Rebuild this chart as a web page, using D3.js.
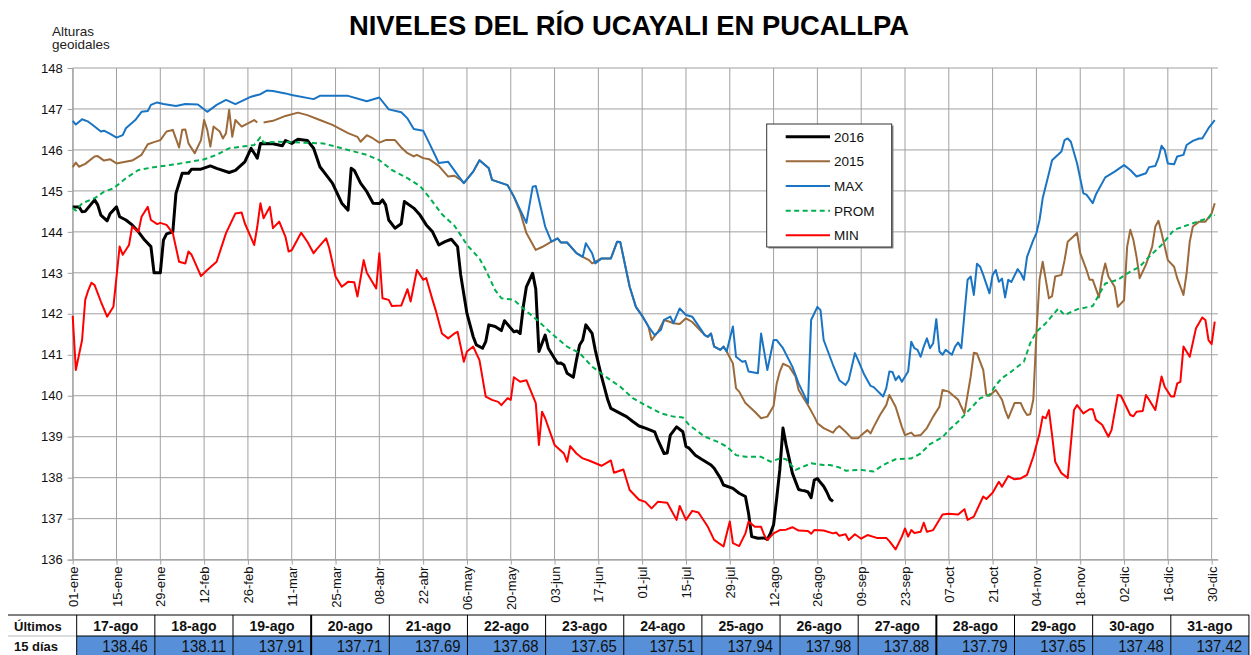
<!DOCTYPE html>
<html><head><meta charset="utf-8">
<script src="https://cdn.jsdelivr.net/npm/d3@7"></script>
<style>
body{margin:0;background:#fff}
svg{display:block}
text{font-family:"Liberation Sans",Arial,Helvetica,sans-serif}
</style>
</head><body>
<svg id="chart" width="1251" height="655"></svg>
<script>
const titleText = "NIVELES DEL RÍO UCAYALI EN PUCALLPA";
const yLabelLines = ["Alturas", "geoidales"];
const tickLabels = ["01-ene","15-ene","29-ene","12-feb","26-feb","11-mar","25-mar","08-abr","22-abr","06-may","20-may","03-jun","17-jun","01-jul","15-jul","29-jul","12-ago","26-ago","09-sep","23-sep","07-oct","21-oct","04-nov","18-nov","02-dic","16-dic","30-dic"];
const yTicks = [136,137,138,139,140,141,142,143,144,145,146,147,148];
const seriesNames = ["2016","2015","MAX","PROM","MIN"];
const seriesColors = ["#000000","#9c6a3a","#1a74c4","#00b050","#ff0000"];

// [day of year (0 = 01-ene), level]
const s2016 = [[0,144.61],[2,144.61],[3,144.49],[4,144.50],[7,144.78],[8,144.66],[9,144.41],[11,144.27],[12,144.45],[14,144.61],[15,144.37],[17,144.29],[19,144.17],[21,144.0],[23,143.80],[25,143.64],[26,143.0],[28,143.0],[29,143.80],[30,143.95],[32,144.0],[33,144.94],[35,145.43],[37,145.43],[38,145.53],[41,145.53],[44,145.61],[46,145.55],[50,145.45],[52,145.50],[55,145.71],[57,146.04],[59,145.80],[60,146.16],[64,146.15],[67,146.10],[68,146.23],[70,146.16],[72,146.26],[75,146.23],[77,146.04],[79,145.59],[81,145.39],[83,145.19],[86,144.70],[88,144.53],[89,145.55],[90,145.50],[92,145.19],[94,144.98],[96,144.70],[98,144.69],[99,144.78],[100,144.66],[101,144.29],[103,144.09],[105,144.20],[106,144.74],[109,144.58],[111,144.41],[113,144.17],[115,144.0],[117,143.68],[119,143.76],[121,143.82],[123,143.64],[124,142.95],[126,142.01],[128,141.44],[129,141.24],[131,141.16],[132,141.32],[133,141.73],[135,141.69],[137,141.59],[138,141.83],[140,141.65],[141,141.56],[142,141.58],[143,141.52],[144,142.17],[145,142.66],[147,142.99],[148,142.60],[149,141.08],[151,141.48],[152,141.16],[154,140.91],[155,140.79],[156,140.80],[157,140.75],[158,140.55],[160,140.45],[161,140.87],[162,141.24],[163,141.36],[164,141.73],[166,141.52],[167,141.12],[169,140.47],[171,139.90],[172,139.69],[175,139.57],[177,139.49],[179,139.37],[181,139.26],[183,139.21],[186,139.12],[187,138.92],[189,138.59],[190,138.60],[191,139.04],[193,139.24],[195,139.12],[196,138.76],[197,138.72],[199,138.55],[201,138.45],[204,138.31],[205,138.23],[207,137.99],[208,137.82],[211,137.74],[213,137.62],[215,137.54],[216,137.13],[217,136.56],[219,136.52],[221,136.53],[222,136.49],[223,136.64],[224,136.85],[225,137.5],[226,138.2],[227,139.21],[228,138.8],[229,138.46],[230,138.11],[231,137.91],[232,137.71],[233,137.69],[234,137.68],[235,137.65],[236,137.51],[237,137.94],[238,137.98],[239,137.88],[240,137.79],[241,137.65],[242,137.48],[243,137.42]];

const s2015 = [[0,145.58],[1,145.69],[2,145.59],[4,145.66],[7,145.84],[8,145.85],[10,145.74],[12,145.77],[14,145.67],[16,145.70],[19,145.74],[22,145.88],[24,146.14],[26,146.19],[28,146.24],[30,146.45],[32,146.49],[34,146.06],[35,146.49],[36,146.50],[37,146.16],[39,145.92],[41,146.24],[42,146.73],[43,146.49],[44,146.08],[45,146.57],[47,146.45],[48,146.28],[49,146.41],[50,146.98],[51,146.32],[52,146.73],[54,146.57],[56,146.65],[58,146.73],[59,146.67],[60,null],[61,146.67],[64,146.71],[68,146.83],[72,146.91],[75,146.85],[79,146.73],[83,146.61],[88,146.41],[91,146.32],[92,146.20],[94,146.36],[96,146.28],[98,146.18],[100,146.24],[103,146.24],[105,146.06],[107,145.92],[109,145.84],[110,145.88],[112,145.80],[114,145.77],[117,145.61],[120,145.35],[122,145.37],[124,145.27],[125,145.19],[128,145.47],[130,145.75],[133,145.55],[134,145.27],[139,145.14],[141,144.86],[143,144.49],[145,143.97],[148,143.56],[150,143.63],[153,143.76],[155,143.84],[156,143.74],[158,143.74],[161,143.48],[163,143.39],[165,143.31],[166,143.23],[169,143.35],[172,143.35],[174,143.76],[175,143.75],[178,142.66],[180,142.17],[182,141.95],[184,141.69],[185,141.36],[187,141.55],[189,141.85],[191,141.80],[192,141.77],[194,141.75],[196,141.89],[198,141.80],[202,141.48],[203,141.44],[204,141.52],[205,141.20],[207,141.12],[208,141.20],[209,141.08],[211,140.79],[212,140.18],[213,140.10],[215,139.82],[218,139.61],[220,139.45],[222,139.49],[224,139.75],[225,140.30],[226,140.59],[227,140.78],[229,140.71],[231,140.47],[232,140.14],[235,139.77],[237,139.49],[238,139.33],[240,139.21],[243,139.10],[244,139.20],[245,139.26],[247,139.12],[249,138.96],[251,138.96],[253,139.10],[254,139.16],[255,139.08],[256,139.24],[258,139.53],[260,139.77],[261,140.02],[263,139.73],[265,139.24],[266,139.04],[268,139.10],[269,139.02],[271,139.04],[273,139.21],[275,139.49],[277,139.73],[278,140.14],[280,140.10],[283,139.90],[284,139.73],[285,139.57],[286,140.02],[287,140.47],[288,141.05],[289,141.03],[291,140.63],[292,140.02],[293,140.0],[295,140.14],[297,139.90],[298,139.65],[299,139.45],[301,139.82],[303,139.82],[304,139.65],[305,139.53],[306,139.55],[307,139.90],[308,141.52],[309,142.83],[310,143.27],[311,142.83],[312,142.38],[313,142.43],[314,142.91],[316,142.95],[317,143.31],[318,143.76],[321,143.97],[322,143.48],[324,143.07],[325,142.83],[326,142.83],[328,142.40],[329,142.91],[330,143.23],[331,142.91],[333,142.66],[334,142.17],[336,142.33],[337,143.64],[338,144.05],[339,143.80],[340,143.39],[341,142.87],[343,143.20],[345,143.64],[346,144.13],[347,144.27],[348,143.97],[350,143.31],[352,143.15],[353,142.87],[355,142.46],[356,142.99],[357,143.76],[358,144.13],[360,144.25],[362,144.25],[364,144.45],[365,144.70]];

const sMax = [[0,146.71],[1,146.62],[3,146.75],[5,146.69],[7,146.57],[9,146.45],[10,146.47],[12,146.39],[14,146.30],[16,146.36],[17,146.53],[20,146.73],[22,146.93],[24,146.95],[25,147.10],[27,147.16],[29,147.12],[33,147.07],[36,147.12],[40,147.11],[43,146.93],[46,147.10],[49,147.22],[52,147.12],[57,147.30],[60,147.36],[62,147.45],[64,147.44],[68,147.38],[70,147.34],[77,147.24],[79,147.32],[88,147.32],[94,147.19],[98,147.28],[101,146.99],[105,146.92],[107,146.77],[109,146.51],[112,146.47],[114,146.16],[117,145.68],[120,145.71],[123,145.39],[125,145.19],[128,145.47],[130,145.75],[133,145.55],[134,145.27],[139,145.14],[141,144.86],[145,144.22],[147,145.10],[148,145.12],[151,144.13],[153,143.76],[155,143.84],[156,143.74],[158,143.74],[161,143.48],[163,143.39],[164,143.72],[166,143.48],[167,143.23],[169,143.35],[172,143.35],[174,143.76],[175,143.75],[178,142.66],[180,142.17],[182,141.95],[184,141.69],[186,141.48],[188,141.61],[189,141.85],[191,141.93],[192,141.77],[194,142.13],[196,141.97],[198,141.93],[202,141.48],[203,141.44],[204,141.52],[205,141.20],[207,141.12],[208,141.20],[209,141.08],[211,141.69],[212,140.95],[214,140.83],[215,140.85],[216,140.59],[219,140.55],[220,141.52],[222,140.63],[224,141.36],[225,141.36],[227,141.16],[230,140.71],[232,140.30],[235,139.82],[236,141.85],[238,142.17],[239,142.09],[240,141.36],[243,140.75],[245,140.38],[247,140.26],[248,140.38],[250,141.04],[251,140.87],[253,140.51],[255,140.24],[256,140.21],[259,139.98],[260,140.18],[261,140.59],[262,140.58],[263,140.38],[264,140.48],[265,140.34],[267,140.59],[268,141.32],[269,141.16],[270,141.12],[271,140.95],[272,141.20],[273,141.40],[274,141.16],[275,141.28],[276,141.87],[277,141.08],[278,141.00],[279,141.12],[281,141.0],[282,141.20],[283,141.30],[284,141.16],[285,142.0],[286,142.83],[287,142.91],[288,142.46],[289,143.22],[290,143.15],[291,142.95],[293,142.50],[294,142.95],[295,143.07],[296,142.78],[297,142.86],[298,142.40],[299,142.83],[300,142.78],[302,143.09],[303,142.99],[304,142.83],[305,143.39],[307,143.80],[308,143.97],[309,144.29],[310,144.82],[312,145.43],[313,145.75],[316,145.96],[317,146.24],[318,146.28],[319,146.20],[321,145.67],[323,144.94],[324,144.91],[326,144.70],[327,144.91],[330,145.33],[333,145.47],[336,145.63],[338,145.51],[340,145.35],[343,145.43],[344,145.58],[346,145.61],[347,145.80],[348,146.10],[349,146.0],[350,145.67],[352,145.65],[353,145.84],[355,145.88],[356,146.12],[358,146.22],[360,146.28],[361,146.28],[363,146.53],[365,146.73]];

const sProm = [[0,144.58],[1,144.52],[3,144.70],[7,144.82],[10,144.98],[13,145.06],[17,145.31],[21,145.51],[26,145.58],[31,145.63],[36,145.69],[42,145.77],[46,145.88],[50,146.04],[56,146.10],[58,146.12],[60,146.31],[61,146.18],[66,146.20],[73,146.18],[80,146.16],[83,146.10],[88,146.0],[94,145.88],[98,145.75],[102,145.51],[107,145.31],[111,145.12],[114,144.84],[118,144.43],[122,144.15],[124,143.92],[126,143.68],[130,143.35],[132,143.07],[135,142.58],[137,142.38],[141,142.34],[144,142.13],[149,141.81],[153,141.52],[158,141.20],[162,141.04],[166,140.71],[171,140.43],[175,140.22],[179,139.94],[183,139.77],[188,139.57],[192,139.49],[195,139.47],[197,139.29],[202,139.0],[206,138.88],[209,138.76],[212,138.55],[215,138.51],[220,138.51],[223,138.39],[226,138.47],[228,138.45],[231,138.19],[236,138.35],[240,138.31],[242,138.31],[245,138.25],[247,138.17],[252,138.19],[256,138.15],[259,138.31],[263,138.45],[268,138.47],[271,138.59],[274,138.82],[278,138.99],[280,139.16],[283,139.37],[287,139.69],[290,139.94],[293,140.02],[295,140.26],[297,140.43],[300,140.59],[304,140.83],[306,141.28],[308,141.56],[311,141.77],[315,142.13],[317,141.97],[321,142.11],[326,142.19],[330,142.74],[334,142.83],[338,143.03],[341,143.15],[344,143.39],[348,143.68],[352,144.05],[355,144.13],[358,144.21],[361,144.29],[363,144.33],[364,144.44],[365,144.40]];

const sMin = [[0,141.95],[1,140.63],[3,141.36],[4,142.34],[5,142.58],[6,142.76],[7,142.70],[9,142.30],[11,141.93],[13,142.17],[15,143.64],[16,143.44],[18,143.68],[19,144.13],[21,144.0],[22,144.37],[24,144.61],[25,144.29],[27,144.19],[28,144.22],[30,144.17],[32,143.97],[34,143.27],[36,143.23],[37,143.52],[38,143.44],[41,142.92],[43,143.07],[46,143.27],[49,143.97],[52,144.45],[54,144.47],[55,144.21],[58,143.68],[59,144.13],[60,144.70],[61,144.33],[63,144.61],[64,144.09],[66,144.25],[68,143.88],[69,143.52],[70,143.55],[73,143.98],[75,143.76],[77,143.48],[78,143.58],[81,143.84],[82,143.60],[84,142.91],[86,142.66],[88,142.78],[90,142.77],[91,142.42],[93,143.31],[94,143.00],[97,142.62],[98,143.48],[99,142.38],[101,142.34],[102,142.19],[105,142.20],[107,142.60],[108,142.30],[110,143.07],[112,142.83],[113,142.87],[115,142.34],[116,142.09],[118,141.52],[120,141.40],[122,141.52],[123,141.56],[124,141.20],[125,140.83],[126,141.08],[128,141.20],[130,140.87],[132,139.98],[134,139.90],[136,139.85],[137,139.77],[139,139.94],[140,139.90],[141,140.45],[143,140.34],[145,140.38],[148,139.82],[149,138.80],[150,139.61],[151,139.45],[154,138.80],[157,138.59],[158,138.39],[159,138.77],[161,138.59],[163,138.47],[165,138.42],[169,138.29],[172,138.42],[173,138.12],[176,138.20],[178,137.70],[181,137.46],[183,137.41],[185,137.25],[187,137.41],[190,137.39],[193,136.97],[194,137.31],[196,136.97],[198,137.19],[200,137.15],[203,136.80],[205,136.48],[208,136.32],[210,136.93],[211,136.40],[213,136.33],[215,136.64],[216,136.93],[218,136.80],[220,136.80],[221,136.60],[222,136.48],[224,136.64],[226,136.72],[228,136.73],[230,136.79],[232,136.71],[235,136.70],[236,136.63],[237,136.72],[240,136.71],[243,136.64],[244,136.66],[245,136.58],[247,136.62],[248,136.48],[250,136.62],[252,136.51],[254,136.60],[257,136.53],[260,136.53],[261,136.45],[263,136.25],[265,136.56],[266,136.76],[267,136.56],[268,136.72],[269,136.65],[271,136.68],[272,136.90],[273,136.68],[275,136.72],[278,137.10],[280,137.12],[283,137.10],[285,137.23],[286,136.97],[288,137.05],[291,137.54],[292,137.48],[294,137.63],[296,137.90],[297,137.78],[299,138.04],[301,137.96],[303,137.98],[305,138.07],[307,138.51],[309,139.08],[310,139.49],[311,139.45],[312,139.65],[313,139.04],[314,138.39],[316,138.11],[318,137.99],[320,139.65],[321,139.77],[323,139.57],[325,139.67],[326,139.67],[327,139.41],[329,139.29],[331,139.00],[332,139.16],[334,140.02],[335,140.00],[338,139.53],[339,139.50],[340,139.61],[342,139.63],[343,140.02],[344,139.90],[346,139.65],[348,140.47],[349,140.22],[351,139.98],[352,139.98],[353,140.30],[354,140.34],[355,141.20],[357,140.95],[359,141.65],[361,141.91],[362,141.85],[363,141.36],[364,141.26],[365,141.81]];

const tableRowLabels = ["Últimos","15 días"];
const tableDates = ["17-ago","18-ago","19-ago","20-ago","21-ago","22-ago","23-ago","24-ago","25-ago","26-ago","27-ago","28-ago","29-ago","30-ago","31-ago"];
const tableValues = [138.46,138.11,137.91,137.71,137.69,137.68,137.65,137.51,137.94,137.98,137.88,137.79,137.65,137.48,137.42];

// ---------------------------------------------------------------
const svg = d3.select("#chart");
const plot = {left: 72.7, right: 1217.9, top: 68, bottom: 559.6};
const start = new Date(Date.UTC(2016,0,1));
const end = new Date(Date.UTC(2017,0,1));
const toDate = d => d3.utcDay.offset(start, d);

const x = d3.scaleUtc().domain([start, end]).range([plot.left, plot.right]);
const y = d3.scaleLinear().domain([136,148]).range([plot.bottom, plot.top]);
const tickDates = tickLabels.map((_, i) => d3.utcDay.offset(start, i*14));

const gridColor = "#a0a0a0";

// gridlines
const grid = svg.append("g");
grid.selectAll("line.h").data(yTicks).join("line")
  .attr("x1", plot.left).attr("x2", plot.right)
  .attr("y1", d => y(d)).attr("y2", d => y(d))
  .attr("stroke", gridColor).attr("stroke-width", 1);
grid.selectAll("line.v").data(tickDates).join("line")
  .attr("x1", d => x(d)).attr("x2", d => x(d))
  .attr("y1", plot.top).attr("y2", plot.bottom)
  .attr("stroke", gridColor).attr("stroke-width", 1);

// y axis
const yAxis = svg.append("g").attr("transform", `translate(${plot.left},0)`)
  .call(d3.axisLeft(y).tickValues(yTicks).tickFormat(d3.format("d")).tickSize(5).tickPadding(5));
yAxis.select(".domain").attr("stroke", gridColor);
yAxis.selectAll(".tick line").attr("stroke", gridColor);
yAxis.selectAll("text").attr("font-size", 13).attr("fill", "#111").attr("font-family", "Liberation Sans, Arial, sans-serif");

// x axis
const xAxis = svg.append("g").attr("transform", `translate(0,${plot.bottom})`)
  .call(d3.axisBottom(x).tickValues(tickDates).tickFormat((d, i) => tickLabels[i]).tickSize(5).tickSizeOuter(0));
xAxis.select(".domain").attr("stroke", gridColor);
xAxis.selectAll(".tick line").attr("stroke", gridColor);
xAxis.selectAll("text")
  .attr("font-size", 13).attr("fill", "#111").attr("font-family", "Liberation Sans, Arial, sans-serif")
  .attr("text-anchor", "end")
  .attr("transform", "rotate(-90)")
  .attr("x", -7).attr("y", 0).attr("dy", "0.35em");

// lines
const line = d3.line()
  .defined(p => p[1] != null)
  .x(p => x(toDate(p[0])))
  .y(p => y(p[1]))
  .curve(d3.curveLinear);

const allSeries = [s2016, s2015, sMax, sProm, sMin];
const widths = [3, 2, 2, 2, 2];
const dashes = [null, null, null, "5,3.5", null];
const lines = svg.append("g");
allSeries.forEach((s, i) => {
  lines.append("path")
    .datum(s)
    .attr("d", line)
    .attr("fill", "none")
    .attr("stroke", seriesColors[i])
    .attr("stroke-width", widths[i])
    .attr("stroke-linejoin", "round")
    .attr("stroke-dasharray", dashes[i]);
});

// title
svg.append("text").attr("x", 629).attr("y", 35).attr("text-anchor", "middle")
  .attr("font-size", 27.4).attr("font-weight", "bold").attr("fill", "#000")
  .text(titleText);

// y label
svg.append("g").selectAll("text").data(yLabelLines).join("text")
  .attr("x", 52).attr("y", (d, i) => 36 + i*13.3)
  .attr("font-size", 13.5).attr("fill", "#222").text(d => d);

// legend
const lg = svg.append("g");
lg.append("rect").attr("x", 768.5).attr("y", 125.5).attr("width", 125).attr("height", 123).attr("fill", "#888");
lg.append("rect").attr("x", 766.7).attr("y", 124).attr("width", 125).attr("height", 123)
  .attr("fill", "#fff").attr("stroke", "#333").attr("stroke-width", 1);
seriesNames.forEach((n, i) => {
  const yy = 136.7 + i*24.65;
  lg.append("line").attr("x1", 785.7).attr("x2", 830).attr("y1", yy).attr("y2", yy)
    .attr("stroke", seriesColors[i]).attr("stroke-width", widths[i]).attr("stroke-dasharray", dashes[i]);
  lg.append("text").attr("x", 834).attr("y", yy + 5).attr("font-size", 13.5).attr("fill", "#111").text(n);
});

// table
const tb = svg.append("g");
const tLeft = 8, c0 = 76.7, cw = 78.15, r0 = 615, r1 = 636, r2 = 656;
tb.selectAll("rect.val").data(tableValues).join("rect")
  .attr("x", (d, i) => c0 + i*cw).attr("y", r1).attr("width", cw).attr("height", r2 - r1)
  .attr("fill", "#5790d8");
tb.append("line").attr("x1", tLeft).attr("x2", 1249).attr("y1", r0).attr("y2", r0).attr("stroke", "#000");
tb.append("line").attr("x1", tLeft).attr("x2", c0).attr("y1", r1).attr("y2", r1).attr("stroke", "#bbb");
tb.append("line").attr("x1", c0).attr("x2", 1249).attr("y1", r1).attr("y2", r1).attr("stroke", "#000");
tb.selectAll("line.col").data(d3.range(tableDates.length + 1)).join("line")
  .attr("x1", i => c0 + i*cw).attr("x2", i => c0 + i*cw)
  .attr("y1", r0).attr("y2", r2)
  .attr("stroke", "#000").attr("stroke-width", i => (i === 3 || i === 11) ? 2 : 1);
tb.selectAll("text.lab").data(tableRowLabels).join("text")
  .attr("x", 14).attr("y", (d, i) => i === 0 ? 631 : 651)
  .attr("font-size", 13).attr("font-weight", "bold").attr("fill", "#111").text(d => d);
tb.selectAll("text.date").data(tableDates).join("text")
  .attr("x", (d, i) => c0 + i*cw + cw/2).attr("y", 631)
  .attr("text-anchor", "middle").attr("font-size", 14).attr("font-weight", "bold").attr("fill", "#111")
  .text(d => d);
tb.selectAll("text.val").data(tableValues).join("text")
  .attr("transform", (d, i) => `translate(${c0 + (i+1)*cw - 7},651.5) scale(0.93,1)`)
  .attr("text-anchor", "end").attr("font-size", 16).attr("fill", "#111")
  .text(d => d.toFixed(2));
</script>
</body></html>
